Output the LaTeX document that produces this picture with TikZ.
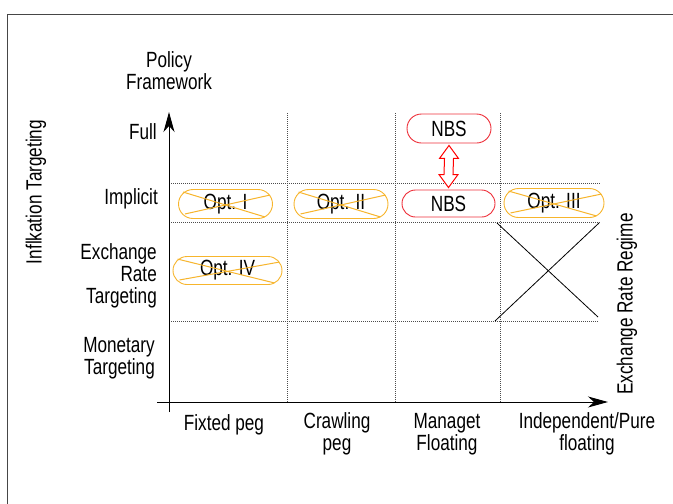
\documentclass[tikz,border=0pt]{standalone}
\usepackage{fontspec}
\setmainfont{Liberation Sans}[FakeStretch=0.78]
\usetikzlibrary{calc,arrows.meta}
\definecolor{optorange}{RGB}{247,181,44}
\definecolor{nbsred}{RGB}{238,50,60}
\definecolor{framegray}{RGB}{70,70,70}
\tikzset{
  lbl/.style={inner sep=0pt, font=\fontsize{22}{22}\selectfont},
  gridline/.style={gray!60!black, line width=0.9pt, dash pattern=on 1pt off 1pt},
  axis/.style={black, line width=1pt, -{Stealth[length=20pt,width=11pt,inset=6pt]}},
  pill/.style={draw, line width=0.9pt, inner sep=0pt, minimum height=29pt,
    rounded corners=14.5pt, fill=white, font=\fontsize{22}{22}\selectfont},
  optpill/.style={pill, draw=optorange},
  nbspill/.style={pill, draw=nbsred},
  strike/.style={optorange, line width=1pt},
}
\begin{document}
\begin{tikzpicture}[x=1pt,y=-1pt]
\useasboundingbox (0,0) rectangle (673,504);

% outer frame
\draw[framegray, line width=1.3pt] (7.5,510) -- (7.5,14.5) -- (680,14.5);

% grid
\foreach \yy in {183,222} \draw[gridline] (169,\yy) -- (600,\yy);
\draw[gridline] (169,321) -- (598,321);
\foreach \xx in {287,395,500} \draw[gridline] (\xx,113) -- (\xx,402);

% crossed-out corner of the table
\draw[black, line width=0.8pt] (497,223) -- (598,317);
\draw[black, line width=0.8pt] (495,321) -- (599,223);

% axes
\draw[axis] (169,412) -- (169,112);
\draw[axis] (157,402) -- (608,402);

% axis titles
\node[lbl, align=center] (pf) at (169,71) {Policy\\Framework};
\node[lbl, rotate=90] (it) at (36,192) {Inflkation Targeting};
\node[lbl, rotate=90] (err) at (627,304) {Exchange Rate Regime};

% row labels
\node[lbl, anchor=east] (full) at (157,132) {Full};
\node[lbl, anchor=east] (impl) at (158,199) {Implicit};
\node[lbl, anchor=east, align=right] (ert) at (157,276) {Exchange\\Rate\\Targeting};
\node[lbl, anchor=east, align=right] (mt) at (155,358) {Monetary\\Targeting};

% column labels
\node[lbl] (fix) at (224,425) {Fixted peg};
\node[lbl, align=center] (crawl) at (337,434) {Crawling\\peg};
\node[lbl, align=center] (manf) at (447,434) {Managet\\Floating};
\node[lbl, align=center] (indep) at (587,434) {Independent/Pure\\floating};

% options
\node[optpill, minimum width=94pt] (o1) at (225.5,204) {Opt. I};
\node[optpill, minimum width=94pt] (o2) at (341,204) {Opt. II};
\node[optpill, minimum width=100pt] (o3) at (554,203) {Opt. III};
\node[optpill, minimum width=109pt, minimum height=28pt, rounded corners=14pt] (o4) at (227.5,270.5) {Opt. IV};

\foreach \n in {o1,o2,o3,o4}{
  \draw[strike] ($(\n.north west)+(5,3)$) -- ($(\n.south east)+(-8,-2)$);
  \draw[strike] ($(\n.south west)+(7,-5)$) -- ($(\n.north east)+(-3,6)$);
}

% NBS
\node[nbspill, minimum width=84pt] (nbsT) at (449,128.5) {NBS};
\node[nbspill, minimum width=93pt, minimum height=27pt, rounded corners=13.5pt] (nbsB) at (448.5,203.5) {NBS};

% hollow double arrow between the two NBS positions
\coordinate (at) at ($(nbsT.south)+(0,2)$);
\coordinate (ab) at ($(nbsB.north)+(0,-2)$);
\draw[red, line width=1pt, fill=white, line join=miter]
  (at) -- ($(at)+(9.5,13)$) -- ($(at)+(4.5,13)$) -- ($(ab)+(4.5,-13)$)
  -- ($(ab)+(9.5,-13)$) -- (ab) -- ($(ab)+(-9.5,-13)$) -- ($(ab)+(-4.5,-13)$)
  -- ($(at)+(-4.5,13)$) -- ($(at)+(-9.5,13)$) -- cycle;
\end{tikzpicture}
\end{document}
